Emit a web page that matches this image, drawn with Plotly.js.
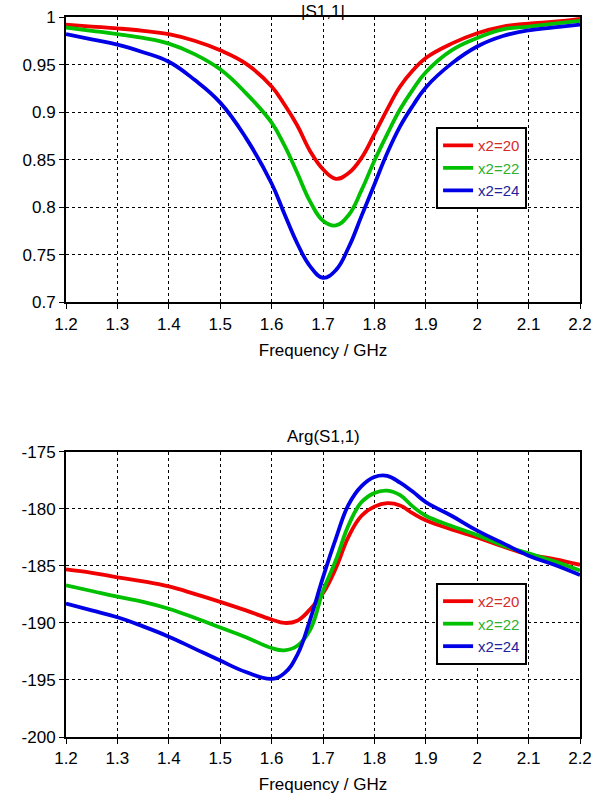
<!DOCTYPE html>
<html>
<head>
<meta charset="utf-8">
<script src="https://cdn.plot.ly/plotly-3.0.1.min.js"></script>
<style>html,body{margin:0;padding:0;background:#fff;}#chart{width:614px;height:803px;}</style>
</head>
<body>
<div id="chart"></div>
<script>
// Frequency grid (GHz)
const freq = [1.2, 1.25, 1.3, 1.35, 1.4, 1.45, 1.5, 1.55, 1.6, 1.625, 1.65, 1.675, 1.7, 1.725, 1.75, 1.775, 1.8, 1.825, 1.85, 1.875, 1.9, 1.95, 2.0, 2.05, 2.1, 2.15, 2.2];

// |S1,1|
const magX20 = [0.992, 0.990, 0.988, 0.9855, 0.982, 0.975, 0.965, 0.951, 0.927, 0.908, 0.886, 0.859, 0.840, 0.830, 0.836, 0.852, 0.877, 0.903, 0.927, 0.944, 0.957, 0.972, 0.983, 0.990, 0.993, 0.995, 0.998];
const magX22 = [0.989, 0.9855, 0.982, 0.978, 0.972, 0.961, 0.945, 0.920, 0.889, 0.865, 0.836, 0.806, 0.786, 0.781, 0.792, 0.818, 0.849, 0.877, 0.903, 0.924, 0.942, 0.965, 0.978, 0.987, 0.990, 0.993, 0.996];
const magX24 = [0.982, 0.9765, 0.971, 0.963, 0.953, 0.934, 0.910, 0.873, 0.825, 0.793, 0.762, 0.738, 0.726, 0.734, 0.758, 0.791, 0.824, 0.857, 0.885, 0.907, 0.926, 0.951, 0.969, 0.980, 0.986, 0.989, 0.992];

// Arg(S1,1) in degrees
const argX20 = [-185.3, -185.6, -186.0, -186.35, -186.8, -187.45, -188.15, -188.9, -189.7, -190.0, -189.8, -188.8, -187.4, -185.2, -182.4, -180.6, -179.8, -179.5, -179.7, -180.4, -181.0, -181.8, -182.5, -183.3, -184.0, -184.4, -184.9];
const argX22 = [-186.7, -187.2, -187.7, -188.15, -188.75, -189.55, -190.4, -191.25, -192.2, -192.4, -192.0, -190.6, -187.2, -184.5, -181.4, -179.4, -178.6, -178.4, -178.8, -179.8, -180.6, -181.5, -182.3, -183.2, -183.9, -184.6, -185.4];
const argX24 = [-188.3, -188.9, -189.5, -190.3, -191.2, -192.25, -193.3, -194.3, -194.9, -194.4, -192.8, -189.7, -186.0, -182.6, -179.6, -178.0, -177.2, -177.1, -177.7, -178.5, -179.4, -180.6, -181.9, -183.0, -184.1, -184.9, -185.8];

const seriesNames = ['x2=20', 'x2=22', 'x2=24'];
const xTickVals = [1.2, 1.3, 1.4, 1.5, 1.6, 1.7, 1.8, 1.9, 2.0, 2.1, 2.2];
const xTickText = ['1.2', '1.3', '1.4', '1.5', '1.6', '1.7', '1.8', '1.9', '2', '2.1', '2.2'];
const magTickVals = [0.7, 0.75, 0.8, 0.85, 0.9, 0.95, 1];
const magTickText = ['0.7', '0.75', '0.8', '0.85', '0.9', '0.95', '1'];
const argTickVals = [-200, -195, -190, -185, -180, -175];
const argTickText = ['-200', '-195', '-190', '-185', '-180', '-175'];

const lineColors = ['#f00000', '#00c000', '#0000e6'];
const textColors = ['#d42a2a', '#2eb02e', '#22229a'];
const FONT = 'Liberation Sans, Arial, sans-serif';

function mk(y, i, xa, ya, leg) {
  return {
    x: freq, y: y, xaxis: xa, yaxis: ya, legend: leg,
    type: 'scatter', mode: 'lines',
    line: {color: lineColors[i], width: 3.8, shape: 'spline', smoothing: 1.2},
    name: '<span style="color:' + textColors[i] + '">' + seriesNames[i] + '</span>',
    hoverinfo: 'skip'
  };
}

const data = [
  mk(magX20, 0, 'x', 'y', 'legend'),
  mk(magX22, 1, 'x', 'y', 'legend'),
  mk(magX24, 2, 'x', 'y', 'legend'),
  mk(argX20, 0, 'x2', 'y2', 'legend2'),
  mk(argX22, 1, 'x2', 'y2', 'legend2'),
  mk(argX24, 2, 'x2', 'y2', 'legend2')
];

const axCommon = {
  showline: true, linecolor: '#000', linewidth: 2, mirror: true,
  showgrid: true, gridcolor: '#000', gridwidth: 1, griddash: '3px,3px',
  zeroline: false, ticks: 'outside', ticklen: 5, tickcolor: '#000', tickwidth: 1,
  tickfont: {family: FONT, size: 17, color: '#000'}
};

const xAx = (anchor) => Object.assign({}, axCommon, {
  anchor: anchor, domain: [0, 1], range: [1.2, 2.2],
  tickmode: 'array', tickvals: xTickVals, ticktext: xTickText,
  title: {text: 'Frequency / GHz', font: {family: FONT, size: 17, color: '#000'}, standoff: 11}
});

const legCommon = {
  xanchor: 'left', yanchor: 'top', bgcolor: '#fff', bordercolor: '#000', borderwidth: 2,
  font: {family: FONT, size: 15}, tracegroupgap: 0, itemwidth: 30
};

const layout = {
  width: 614, height: 803,
  margin: {l: 66, r: 34, t: 17, b: 66},
  paper_bgcolor: '#fff', plot_bgcolor: '#fff',
  showlegend: true,
  xaxis: xAx('y'),
  xaxis2: xAx('y2'),
  yaxis: Object.assign({}, axCommon, {
    anchor: 'x', domain: [0.6035, 1], range: [0.7, 1],
    tickmode: 'array', tickvals: magTickVals, ticktext: magTickText
  }),
  yaxis2: Object.assign({}, axCommon, {
    anchor: 'x2', domain: [0, 0.396], range: [-200, -175],
    tickmode: 'array', tickvals: argTickVals, ticktext: argTickText
  }),
  legend: Object.assign({}, legCommon, {x: 0.72, y: 0.847}),
  legend2: Object.assign({}, legCommon, {x: 0.72, y: 0.214}),
  annotations: [
    {text: '|S1,1|', xref: 'paper', yref: 'paper', x: 0.5, y: 1.0236, xanchor: 'center', yanchor: 'top', showarrow: false, font: {family: FONT, size: 17, color: '#000'}},
    {text: 'Arg(S1,1)', xref: 'paper', yref: 'paper', x: 0.5, y: 0.4167, xanchor: 'center', yanchor: 'middle', showarrow: false, font: {family: FONT, size: 17, color: '#000'}}
  ]
};

Plotly.newPlot('chart', data, layout, {displayModeBar: false, staticPlot: true});
</script>
</body>
</html>
